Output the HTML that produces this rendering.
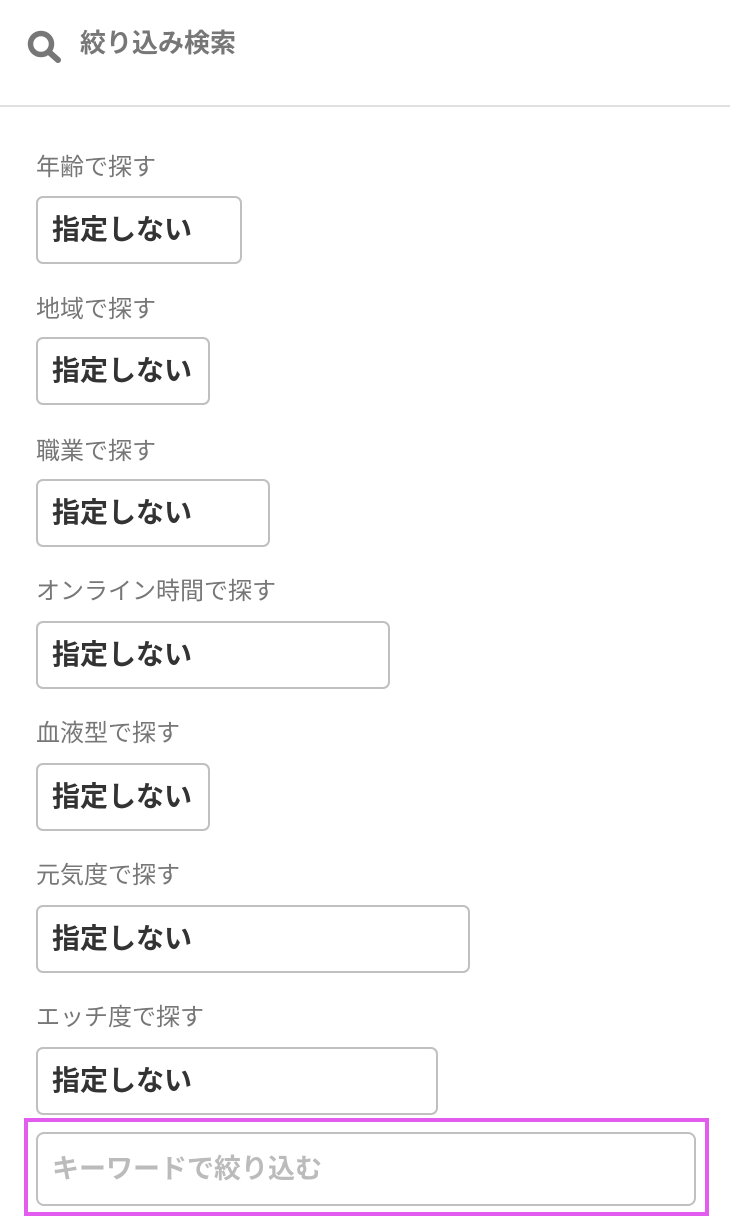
<!DOCTYPE html>
<html><head><meta charset="utf-8"><style>
*{margin:0;padding:0;box-sizing:border-box}
body{width:730px;height:1224px;background:#fff;position:relative;overflow:hidden;font-family:"Liberation Sans","Noto Sans CJK JP",sans-serif}
.h{position:absolute;left:80px;top:27px;font-size:26px;font-weight:bold;color:#777;line-height:32px}
.line{position:absolute;left:0;top:105px;width:730px;height:2px;background:#e0e0e0}
.lb{position:absolute;left:36px;font-size:24px;color:#777;line-height:30px}
.bx{position:absolute;left:36px;height:68px;border:2px solid #c0c0c0;border-radius:7px;font-size:28px;font-weight:bold;color:#333;padding-left:14px;line-height:64px}
.mg{position:absolute;left:24px;top:1118px;width:685px;height:98px;border:4px solid #e35cf0}
.kw{position:absolute;left:36px;top:1132px;width:660px;height:74px;border:2px solid #c0c0c0;border-radius:8px;font-size:27px;font-weight:bold;color:#bbb;padding-left:14px;line-height:70px}
</style></head><body>
<svg style="position:absolute;left:26px;top:29px" width="38" height="36" viewBox="0 0 38 36">
<circle cx="15" cy="15" r="10.5" fill="none" stroke="#777" stroke-width="5.5"/>
<line x1="23" y1="23" x2="32" y2="31" stroke="#777" stroke-width="6" stroke-linecap="round"/>
</svg>
<div class="h">絞り込み検索</div>
<div class="line"></div>
<div class="lb" style="top:153px">年齢で探す</div>
<div class="bx" style="top:196px;width:206px">指定しない</div>
<div class="lb" style="top:295px">地域で探す</div>
<div class="bx" style="top:337px;width:174px">指定しない</div>
<div class="lb" style="top:437px">職業で探す</div>
<div class="bx" style="top:479px;width:234px">指定しない</div>
<div class="lb" style="top:577px">オンライン時間で探す</div>
<div class="bx" style="top:621px;width:354px">指定しない</div>
<div class="lb" style="top:719px">血液型で探す</div>
<div class="bx" style="top:763px;width:174px">指定しない</div>
<div class="lb" style="top:861px">元気度で探す</div>
<div class="bx" style="top:905px;width:434px">指定しない</div>
<div class="lb" style="top:1003px">エッチ度で探す</div>
<div class="bx" style="top:1047px;width:402px">指定しない</div>
<div class="mg"></div>
<div class="kw">キーワードで絞り込む</div>
</body></html>
